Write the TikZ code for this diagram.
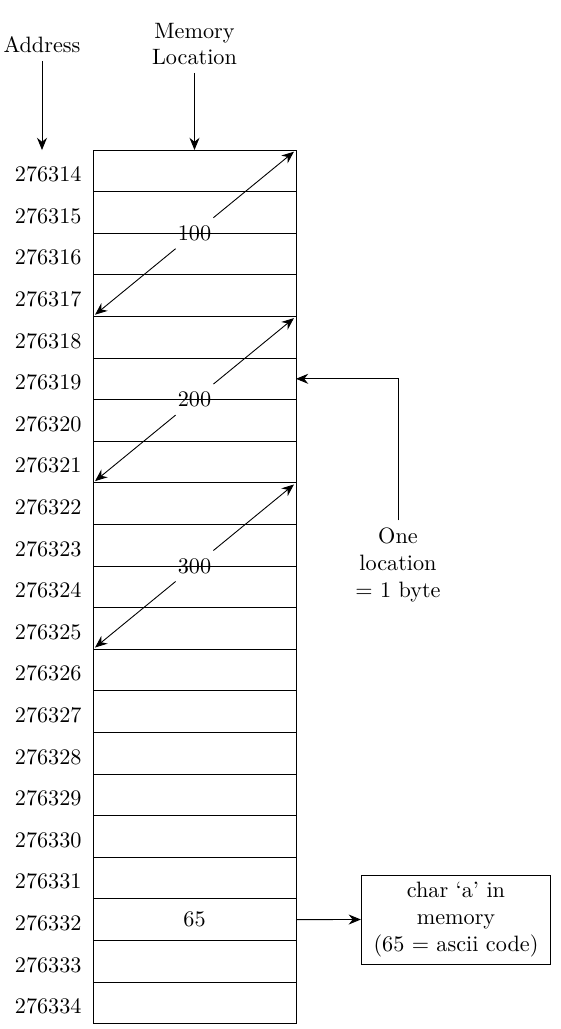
\documentclass[tikz,border=0pt]{standalone}
\usepackage{tikz}
\usetikzlibrary{arrows.meta}

\begin{document}
\begin{tikzpicture}[x=.45pt,y=-.45pt,
  cell/.style={draw,outer sep=0pt,minimum width=91.35pt,minimum height=18.72pt,inner sep=0pt},
  addr/.style={inner sep=0pt,anchor=east},
  arr/.style={-{Stealth[length=5.5pt,width=4.5pt]}},
  dbl/.style={-{Stealth[length=5.5pt,width=4.5pt]},shorten >=1.2pt}]
\path[use as bounding box] (0,0) rectangle (560,1029);
% headings
\node (address) at (42,45) {Address};
\node[align=center] (memloc) at (194.5,44) {Memory\\Location};
\coordinate (addrend) at (42,150);
% memory cells
\node[cell] (c1) at (194.5,170.8) {};
\node[cell] (c2) at (194.5,212.4) {};
\node[cell] (c3) at (194.5,254.0) {};
\node[cell] (c4) at (194.5,295.6) {};
\node[cell] (c5) at (194.5,337.2) {};
\node[cell] (c6) at (194.5,378.8) {};
\node[cell] (c7) at (194.5,420.4) {};
\node[cell] (c8) at (194.5,462.0) {};
\node[cell] (c9) at (194.5,503.6) {};
\node[cell] (c10) at (194.5,545.2) {};
\node[cell] (c11) at (194.5,586.8) {};
\node[cell] (c12) at (194.5,628.4) {};
\node[cell] (c13) at (194.5,670.0) {};
\node[cell] (c14) at (194.5,711.6) {};
\node[cell] (c15) at (194.5,753.2) {};
\node[cell] (c16) at (194.5,794.8) {};
\node[cell] (c17) at (194.5,836.4) {};
\node[cell] (c18) at (194.5,878.0) {};
\node[cell] (c19) at (194.5,919.6) {65};
\node[cell] (c20) at (194.5,961.2) {};
\node[cell] (c21) at (194.5,1002.8) {};
% addresses
\node[addr] (a1) at (82,174.5) {276314};
\node[addr] (a2) at (82,216.1) {276315};
\node[addr] (a3) at (82,257.7) {276316};
\node[addr] (a4) at (82,299.3) {276317};
\node[addr] (a5) at (82,340.9) {276318};
\node[addr] (a6) at (82,382.5) {276319};
\node[addr] (a7) at (82,424.1) {276320};
\node[addr] (a8) at (82,465.7) {276321};
\node[addr] (a9) at (82,507.3) {276322};
\node[addr] (a10) at (82,548.9) {276323};
\node[addr] (a11) at (82,590.5) {276324};
\node[addr] (a12) at (82,632.1) {276325};
\node[addr] (a13) at (82,673.7) {276326};
\node[addr] (a14) at (82,715.3) {276327};
\node[addr] (a15) at (82,756.9) {276328};
\node[addr] (a16) at (82,798.5) {276329};
\node[addr] (a17) at (82,840.1) {276330};
\node[addr] (a18) at (82,881.7) {276331};
\node[addr] (a19) at (82,923.3) {276332};
\node[addr] (a20) at (82,964.9) {276333};
\node[addr] (a21) at (82,1006.5) {276334};
% variable sizes
\node (v100) at (194.5,233.2) {100};
\node (v200) at (194.5,399.6) {200};
\node (v300) at (194.5,566.0) {300};
\draw[dbl] (v100) -- (c4.south west);
\draw[dbl] (v100) -- (c1.north east);
\draw[dbl] (v200) -- (c8.south west);
\draw[dbl] (v200) -- (c5.north east);
\draw[dbl] (v300) -- (c12.south west);
\draw[dbl] (v300) -- (c9.north east);
% notes on the right
\node[align=center] (onebyte) at (398,565) {One\\location\\= 1 byte};
\node[draw,align=center,inner xsep=5.5pt] (charbox) at (456,919.5) {char `a' in\\memory\\(65 = ascii code)};
% connectors
\draw[arr] (address) -- (addrend);
\draw[arr] (memloc) -- (c1.north);
\draw[arr] (onebyte) |- (c6.east);
\draw[arr] (c19.east) -- (charbox.west);
\end{tikzpicture}
\end{document}
